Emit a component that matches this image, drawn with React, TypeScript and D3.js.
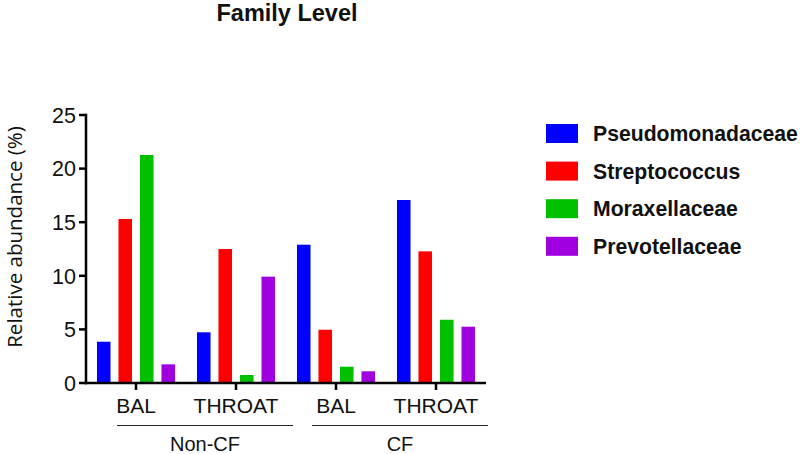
import React from "react";
import * as d3 from "d3";

const categories = ["BAL", "THROAT", "BAL ", "THROAT "];
const categoryLabels = ["BAL", "THROAT", "BAL", "THROAT"];
const groups = ["Non-CF", "CF"];
const series = ["Pseudomonadaceae", "Streptococcus", "Moraxellaceae", "Prevotellaceae"];
const colors = ["#0000ff", "#ff0000", "#00c000", "#a000e0"];
const pseudomonadaceae = [3.85, 4.73, 12.9, 17.07];
const streptococcus = [15.3, 12.5, 4.97, 12.28];
const moraxellaceae = [21.27, 0.75, 1.52, 5.9];
const prevotellaceae = [1.74, 9.92, 1.09, 5.25];
const yTicks = [0, 5, 10, 15, 20, 25];

const values = [pseudomonadaceae, streptococcus, moraxellaceae, prevotellaceae];

export default function App() {
  const W = 800, H = 454;
  const left = 86, right = 486, top = 115, bottom = 383;
  const x = d3.scaleBand().domain(categories).range([left, right]).paddingInner(0).paddingOuter(0);
  const xSub = d3.scaleBand().domain(series).range([-43, 43]).paddingInner(0.37).paddingOuter(0.185);
  const y = d3.scaleLinear().domain([0, 25]).range([bottom, top]);
  const font = "'Liberation Sans', Arial, sans-serif";

  const groupSpans = [
    { label: groups[0], x0: 117, x1: 293 },
    { label: groups[1], x0: 312, x1: 488 },
  ];

  return (
    <svg width={W} height={H} style={{ position: "absolute", left: 0, top: 0, background: "#fff" }}>
      <text x={287} y={21} textAnchor="middle" fontFamily={font} fontWeight="bold" fontSize={23.5} fill="#111">
        Family Level
      </text>
      {/* bars */}
      {categories.map((c, ci) =>
        series.map((s, si) => {
          const v = values[si][ci];
          const cx = (x(c) as number) + x.bandwidth() / 2;
          return (
            <rect
              key={c + s}
              x={cx + (xSub(s) as number)}
              y={y(v)}
              width={xSub.bandwidth()}
              height={y(0) - y(v)}
              fill={colors[si]}
            />
          );
        })
      )}
      {/* y axis */}
      <line x1={left} x2={left} y1={top - 1.25} y2={bottom + 1.25} stroke="#000" strokeWidth={2.5} />
      {yTicks.map((t) => (
        <g key={t}>
          <line x1={left - 7} x2={left} y1={y(t)} y2={y(t)} stroke="#000" strokeWidth={2.5} />
          <text x={76} y={y(t)} dy="0.36em" textAnchor="end" fontFamily={font} fontSize={21.5} fill="#111">
            {t}
          </text>
        </g>
      ))}
      {/* x axis */}
      <line x1={left - 1.25} x2={right} y1={bottom} y2={bottom} stroke="#000" strokeWidth={2.5} />
      {categories.map((c, i) => {
        const cx = (x(c) as number) + x.bandwidth() / 2;
        return (
          <g key={c}>
            <line x1={cx} x2={cx} y1={bottom} y2={bottom + 7} stroke="#000" strokeWidth={2.5} />
            <text x={cx} y={413} textAnchor="middle" fontFamily={font} fontSize={21} fill="#111">
              {categoryLabels[i]}
            </text>
          </g>
        );
      })}
      {groupSpans.map((g) => (
        <g key={g.label}>
          <line x1={g.x0} x2={g.x1} y1={425.5} y2={425.5} stroke="#222" strokeWidth={1} />
          <text x={(g.x0 + g.x1) / 2} y={451} textAnchor="middle" fontFamily={font} fontSize={20} fill="#111">
            {g.label}
          </text>
        </g>
      ))}
      {/* y label */}
      <text
        transform={`translate(22,237) rotate(-90)`}
        textAnchor="middle"
        fontFamily="'Open Sans', sans-serif"
        fontSize={20.5}
        fill="#111"
      >
        Relative abundance (%)
      </text>
      {/* legend */}
      {series.map((s, i) => {
        const yy = 124 + i * 37.6;
        return (
          <g key={s}>
            <rect x={546} y={yy} width={32} height={19} fill={colors[i]} />
            <text x={593} y={yy + 17} fontFamily={font} fontWeight="bold" fontSize={21.2} fill="#111">
              {s}
            </text>
          </g>
        );
      })}
    </svg>
  );
}
